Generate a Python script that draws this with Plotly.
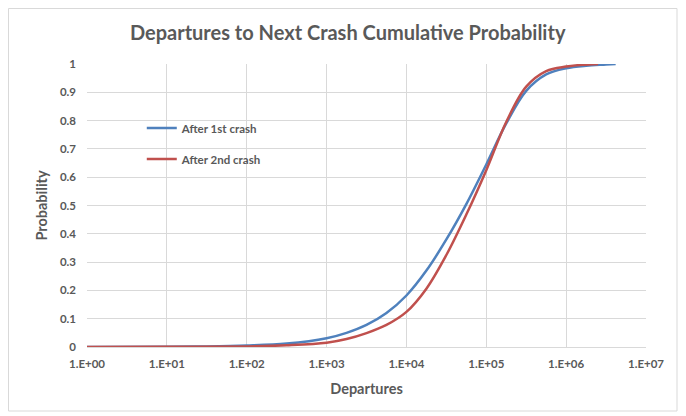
import plotly.graph_objects as go

# log10(departures) and cumulative probability
blue_log = [0, 1, 1.5, 2, 2.5, 3.0, 3.25, 3.5, 3.75, 4.0, 4.25, 4.5, 4.75, 5.0, 5.25, 5.5, 5.75, 6.0, 6.25, 6.5, 6.62]
blue_p = [0.0, 0.001, 0.002, 0.005, 0.012, 0.031, 0.05, 0.078, 0.12, 0.182, 0.27, 0.38, 0.505, 0.645, 0.79, 0.905, 0.963, 0.985, 0.994, 0.998, 1.0]

red_log = [0, 1, 2, 2.5, 3.0, 3.25, 3.5, 3.75, 4.0, 4.25, 4.5, 4.75, 5.0, 5.25, 5.5, 5.75, 6.0, 6.2, 6.4]
red_p = [0.0, 0.0005, 0.002, 0.006, 0.015, 0.028, 0.049, 0.078, 0.124, 0.206, 0.325, 0.468, 0.625, 0.795, 0.92, 0.975, 0.991, 0.997, 1.0]

series_names = ["After 1st crash", "After 2nd crash"]
x_tickvals_exp = [0, 1, 2, 3, 4, 5, 6, 7]
x_ticktext = ["1.E+00", "1.E+01", "1.E+02", "1.E+03", "1.E+04", "1.E+05", "1.E+06", "1.E+07"]
y_tickvals = [0, 0.1, 0.2, 0.3, 0.4, 0.5, 0.6, 0.7, 0.8, 0.9, 1]
y_ticktext = ["0", "0.1", "0.2", "0.3", "0.4", "0.5", "0.6", "0.7", "0.8", "0.9", "1"]

FONT = "Lato"
GREY = "#595959"

fig = go.Figure()
fig.add_trace(go.Scatter(
    x=[10 ** v for v in blue_log], y=blue_p, mode="lines", name=series_names[0],
    line=dict(color="#4F81BD", width=2.5, shape="spline", smoothing=1.0),
    legendgroup="a"))
fig.add_trace(go.Scatter(
    x=[10 ** v for v in red_log], y=red_p, mode="lines", name=series_names[1],
    line=dict(color="#C0504D", width=2.5, shape="spline", smoothing=1.0),
    legendgroup="b"))

# page body has an 8px margin; figure sized/margined so the plot area sits at
# page x 87..646, y 64..347
fig.update_layout(
    width=678, height=408,
    margin=dict(l=79, r=40, t=56, b=69),
    paper_bgcolor="white", plot_bgcolor="white",
    font=dict(family=FONT, color=GREY),
    title=dict(text="<b>Departures to Next Crash Cumulative Probability</b>",
               x=0.501, xanchor="center", y=0.939, yanchor="middle",
               font=dict(family=FONT, size=20, color=GREY)),
    showlegend=True,
    legend=dict(x=0.098, y=0.825, xanchor="left", yanchor="top",
                bgcolor="rgba(0,0,0,0)", traceorder="grouped", tracegroupgap=12,
                font=dict(family=FONT, size=11.5, color=GREY, weight="bold")),
    xaxis=dict(type="log", range=[0, 7],
               tickvals=[10 ** e for e in x_tickvals_exp], ticktext=x_ticktext,
               showgrid=True, gridcolor="#D9D9D9", gridwidth=1,
               showline=True, linecolor="#D9D9D9", linewidth=1,
               ticks="", zeroline=False, ticklabelstandoff=6,
               tickfont=dict(family=FONT, size=11.5, color=GREY, weight="bold"),
               title=dict(text="<b>Departures</b>", standoff=15,
                          font=dict(family=FONT, size=14.5, color=GREY))),
    yaxis=dict(range=[0, 1], tickvals=y_tickvals, ticktext=y_ticktext,
               showgrid=True, gridcolor="#D9D9D9", gridwidth=1,
               showline=False, zeroline=False, ticks="",
               ticklabelstandoff=10,
               tickfont=dict(family=FONT, size=11.5, color=GREY, weight="bold"),
               title=dict(text="<b>Probability</b>", standoff=8,
                          font=dict(family=FONT, size=14.5, color=GREY))),
)

# outer chart-area border
fig.add_shape(type="rect", xref="paper", yref="paper",
              x0=(8.5 - 87) / 559, x1=(677 - 87) / 559,
              y0=(347 - 411) / 283, y1=(347 - 8.5) / 283,
              line=dict(color="#D9D9D9", width=1), fillcolor="rgba(0,0,0,0)", layer="below")

fig.write_html("out.html")
